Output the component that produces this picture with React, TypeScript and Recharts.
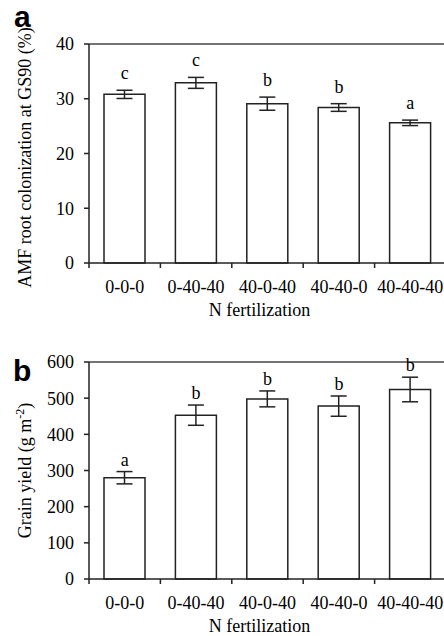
import React from 'react';
import {
  ComposedChart,
  Bar,
  Line,
  XAxis,
  YAxis,
  ErrorBar,
  LabelList,
  ReferenceLine,
} from 'recharts';

// N fertilization treatments
const categories = ['0-0-0', '0-40-40', '40-0-40', '40-40-0', '40-40-40'];

// panel a: AMF root colonization at GS90 (%)
const amfMean = [30.8, 32.9, 29.1, 28.4, 25.6];
const amfSe = [0.75, 1.0, 1.2, 0.7, 0.5];
const amfLetters = ['c', 'c', 'b', 'b', 'a'];
const amfTicks = [0, 10, 20, 30, 40];

// panel b: grain yield (g m-2)
const yieldMean = [280, 453, 498, 478, 524];
const yieldSe = [17, 28, 22, 28, 34];
const yieldLetters = ['a', 'b', 'b', 'b', 'b'];
const yieldTicks = [0, 100, 200, 300, 400, 500, 600];

const SERIF = '"Liberation Serif", "Times New Roman", serif';
const INK = '#222';

const rows = (mean: number[], se: number[], letters: string[]) =>
  categories.map((name, i) => ({
    name,
    mean: mean[i],
    se: se[i],
    top: mean[i] + se[i],
    letter: letters[i],
  }));

// category tick: label at band centre, tick mark at band start
const CatTick = (props: any) => {
  const { x, y, payload } = props;
  const left = x - (payload.offset ?? 0);
  return (
    <g>
      <line x1={left} x2={left} y1={y} y2={y + 5} stroke={INK} strokeWidth={1.5} />
      <text
        x={x}
        y={y + 17}
        dy="0.71em"
        textAnchor="middle"
        fill="#000"
        fontFamily={SERIF}
        fontSize={18}
      >
        {payload.value}
      </text>
    </g>
  );
};

type PanelProps = {
  data: any[];
  ticks: number[];
  height: number;
  top: number;
  yLabel: React.ReactNode;
  yShift: number;
  xLabelLift: number;
  letterGap: number;
};

const Panel = ({ data, ticks, height, top, yLabel, yShift, xLabelLift, letterGap }: PanelProps) => {
  const max = ticks[ticks.length - 1];
  return (
    <ComposedChart
      width={446}
      height={height}
      data={data}
      margin={{ top, right: 0, bottom: 0, left: 0 }}
    >
      <XAxis
        dataKey="name"
        height={57}
        tickLine={false}
        tickSize={0}
        tickMargin={0}
        tick={<CatTick />}
        axisLine={{ stroke: INK, strokeWidth: 1.5 }}
        interval={0}
        label={{
          content: ({ viewBox }: any) => (
            <text
              x={viewBox.x + viewBox.width / 2 - 8}
              y={viewBox.y + viewBox.height - xLabelLift}
              textAnchor="middle"
              fill="#000"
              fontFamily={SERIF}
              fontSize={18}
            >
              N fertilization
            </text>
          ),
        }}
      />
      <YAxis
        width={89}
        domain={[0, max]}
        ticks={ticks}
        interval={0}
        tickSize={5}
        tickMargin={10}
        tickLine={{ stroke: INK, strokeWidth: 1.5 }}
        axisLine={{ stroke: INK, strokeWidth: 1.5 }}
        tick={{ fill: '#000', fontFamily: SERIF, fontSize: 18 }}
        label={{
          content: ({ viewBox }: any) => {
            const cx = viewBox.x + 31;
            const cy = viewBox.y + viewBox.height / 2 + yShift;
            return (
              <text
                x={cx}
                y={cy}
                transform={`rotate(-90, ${cx}, ${cy})`}
                textAnchor="middle"
                fill="#000"
                fontFamily={SERIF}
                fontSize={18}
              >
                {yLabel}
              </text>
            );
          },
        }}
      />
      <ReferenceLine y={max} stroke="#444" strokeWidth={1.5} />
      <Bar
        dataKey="mean"
        fill="#fff"
        stroke={INK}
        strokeWidth={1.5}
        barSize={41}
        isAnimationActive={false}
      >
        <ErrorBar dataKey="se" width={8} stroke={INK} strokeWidth={1.5} />
      </Bar>
      <Line
        dataKey="top"
        stroke="none"
        dot={false}
        activeDot={false}
        legendType="none"
        isAnimationActive={false}
      >
        <LabelList
          dataKey="letter"
          position="top"
          offset={letterGap}
          fill="#000"
          fontFamily={SERIF}
          fontSize={18}
        />
      </Line>
    </ComposedChart>
  );
};

const App = () => (
  <div
    style={{
      position: 'absolute',
      left: 0,
      top: 0,
      width: 444,
      height: 636,
      overflow: 'hidden',
      background: '#fff',
    }}
  >
    <div style={{ position: 'absolute', left: 0, top: 0 }}>
      <Panel
        data={rows(amfMean, amfSe, amfLetters)}
        ticks={amfTicks}
        height={320}
        top={44}
        yLabel="AMF root colonization at GS90 (%)"
        yShift={4}
        xLabelLift={4}
        letterGap={11}
      />
    </div>
    <div style={{ position: 'absolute', left: 0, top: 320 }}>
      <Panel
        data={rows(yieldMean, yieldSe, yieldLetters)}
        ticks={yieldTicks}
        height={316}
        top={42}
        yLabel={
          <>
            <tspan>Grain yield (g m</tspan>
            <tspan baselineShift="super" fontSize={12}>-2</tspan>
            <tspan>)</tspan>
          </>
        }
        yShift={0}
        xLabelLift={4}
        letterGap={6}
      />
    </div>
    <svg
      width={444}
      height={636}
      style={{ position: 'absolute', left: 0, top: 0, pointerEvents: 'none' }}
    >
      <text x={14} y={27} fontFamily='"Liberation Sans", Arial, sans-serif' fontWeight="bold" fontSize={30} fill="#000">
        a
      </text>
      <text x={13} y={381} fontFamily='"Liberation Sans", Arial, sans-serif' fontWeight="bold" fontSize={30} fill="#000">
        b
      </text>
    </svg>
  </div>
);

export default App;
